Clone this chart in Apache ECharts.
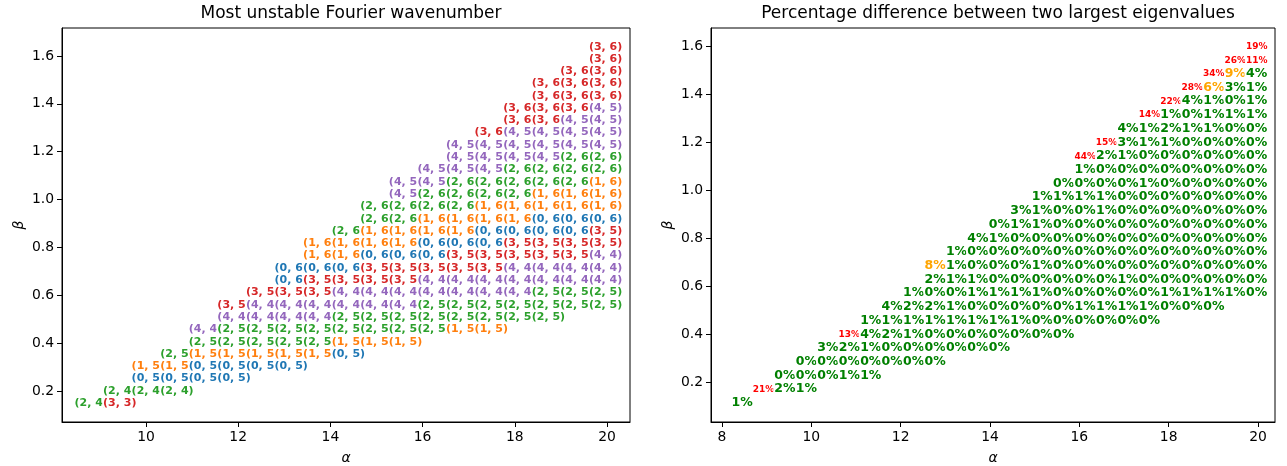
<!DOCTYPE html>
<html><head><meta charset="utf-8">
<script src="https://cdn.jsdelivr.net/npm/echarts@6/dist/echarts.min.js"></script>
<style>html,body{margin:0;padding:0;background:#fff}#c{width:1287px;height:466px}</style>
</head><body><div id="c"></div>
<script>
// ---------- Left panel: most unstable Fourier wavenumber ----------
const leftAlpha = [8.81, 9.43, 10.05, 10.67, 11.29, 11.91, 12.53, 13.15, 13.77, 14.39, 15.01, 15.63, 16.25, 16.87, 17.49, 18.11, 18.73, 19.35, 19.97];
const leftBeta = [0.149, 0.200, 0.252, 0.303, 0.355, 0.406, 0.457, 0.509, 0.560, 0.612, 0.663, 0.714, 0.766, 0.817, 0.869, 0.920, 0.971, 1.023, 1.074, 1.126, 1.177, 1.228, 1.280, 1.331, 1.383, 1.434, 1.485, 1.537, 1.588, 1.639];
const leftRowStart = [0,1,2,2,3,4,4,5,5,6,7,7,8,8,9,10,10,11,11,12,13,13,14,15,15,16,16,17,18,18];
const leftRowModes = [
  "24 33",
  "24 24 24",
  "05 05 05 05",
  "15 15 05 05 05 05",
  "25 15 15 15 15 15 05",
  "25 25 25 25 25 15 15 15",
  "44 25 25 25 25 25 25 25 25 15 15",
  "44 44 44 44 25 25 25 25 25 25 25 25",
  "35 44 44 44 44 44 44 25 25 25 25 25 25 25",
  "35 35 35 44 44 44 44 44 44 44 25 25 25",
  "06 35 35 35 35 44 44 44 44 44 44 44",
  "06 06 06 35 35 35 35 35 44 44 44 44",
  "16 16 06 06 06 35 35 35 35 35 44",
  "16 16 16 16 06 06 06 35 35 35 35",
  "26 16 16 16 16 06 06 06 06 35",
  "26 26 16 16 16 16 06 06 06",
  "26 26 26 26 16 16 16 16 16",
  "45 26 26 26 26 16 16 16",
  "45 45 26 26 26 26 26 16",
  "45 45 45 26 26 26 26",
  "45 45 45 45 26 26",
  "45 45 45 45 45 45",
  "36 45 45 45 45",
  "36 36 45 45",
  "36 36 36 45",
  "36 36 36",
  "36 36 36",
  "36 36",
  "36",
  "36"
];
const leftXTicks = [10, 12, 14, 16, 18, 20];
const leftYTicks = [0.2, 0.4, 0.6, 0.8, 1.0, 1.2, 1.4, 1.6];

// ---------- Right panel: percentage difference ----------
const rightAlpha = [8.45, 8.93, 9.41, 9.89, 10.37, 10.85, 11.33, 11.81, 12.29, 12.77, 13.25, 13.73, 14.21, 14.69, 15.17, 15.65, 16.13, 16.61, 17.09, 17.57, 18.05, 18.53, 19.01, 19.49, 19.97];
const rightBeta = [0.113, 0.170, 0.227, 0.284, 0.341, 0.398, 0.456, 0.513, 0.570, 0.627, 0.684, 0.741, 0.798, 0.856, 0.913, 0.970, 1.027, 1.084, 1.141, 1.198, 1.256, 1.313, 1.370, 1.427, 1.484, 1.541, 1.599];
const rightRowStart = [0,1,2,3,4,5,6,7,8,9,9,10,11,12,13,14,15,16,16,17,18,19,20,21,22,23,24];
const rightRowPct = [
  [1],
  [21,2,1],
  [0,0,0,1,1],
  [0,0,0,0,0,0,0],
  [3,2,1,0,0,0,0,0,0],
  [13,4,2,1,0,0,0,0,0,0,0],
  [1,1,1,1,1,1,1,1,0,0,0,0,0,0],
  [4,2,2,1,0,0,0,0,0,1,1,1,1,0,0,0],
  [1,0,0,1,1,1,1,0,0,0,0,0,1,1,1,1,0],
  [2,1,1,0,0,0,0,0,0,1,0,0,0,0,0,0],
  [8,1,0,0,0,1,0,0,0,0,0,0,0,0,0,0],
  [1,0,0,0,0,0,0,0,0,0,0,0,0,0,0],
  [4,1,0,0,0,0,0,0,0,0,0,0,0,0],
  [0,1,1,0,0,0,0,0,0,0,0,0,0],
  [3,1,0,0,1,0,0,0,0,0,0,0],
  [1,1,1,1,0,0,0,0,0,0,0],
  [0,0,0,0,1,0,0,0,0,0],
  [1,0,0,0,0,0,0,0,0],
  [44,2,1,0,0,0,0,0,0],
  [15,3,1,1,0,0,0,0],
  [4,1,2,1,1,0,0],
  [14,1,0,1,1,1],
  [22,4,1,0,1],
  [28,6,3,1],
  [34,9,4],
  [26,11],
  [19]
];
const rightXTicks = [8, 10, 12, 14, 16, 18, 20];
const rightYTicks = [0.2, 0.4, 0.6, 0.8, 1.0, 1.2, 1.4, 1.6];

// ---------- build ----------
const FONT = '"DejaVu Sans"';
const tab10 = ['#1f77b4', '#ff7f0e', '#2ca02c', '#d62728', '#9467bd'];

const leftData = [];
leftRowModes.forEach((row, i) => {
  row.split(' ').forEach((code, n) => {
    const a = +code[0], b = +code[1];
    leftData.push({
      name: '(' + a + ', ' + b + ')',
      value: [leftAlpha[leftRowStart[i] + n], leftBeta[i]],
      color: tab10[a], size: 11, halo: 1.6
    });
  });
});

const rightData = [];
rightRowPct.forEach((row, i) => {
  row.forEach((v, n) => {
    let color = 'green', size = 12.5;
    if (v >= 10) { color = 'red'; size = 9; }
    else if (v >= 5) { color = 'orange'; size = 12.5; }
    rightData.push({
      name: v + '%',
      value: [rightAlpha[rightRowStart[i] + n], rightBeta[i]],
      color: color, size: size, halo: 2
    });
  });
});

function xAxis(gi, min, max, ticks) {
  return {
    type: 'value', gridIndex: gi, min: min, max: max,
    axisLine: { show: true, onZero: false, lineStyle: { color: '#000', width: 1 } },
    axisTick: { show: true, inside: false, length: 5, lineStyle: { color: '#000', width: 1 }, customValues: ticks },
    axisLabel: { customValues: ticks, color: '#000', fontSize: 13.9, fontFamily: 'DejaVu Sans', margin: 8 },
    splitLine: { show: false },
    name: 'α', nameLocation: 'middle', nameGap: 29,
    nameTextStyle: { fontStyle: 'italic', fontSize: 14, color: '#000', fontFamily: 'DejaVu Sans' }
  };
}
function yAxis(gi, min, max, ticks) {
  return {
    type: 'value', gridIndex: gi, min: min, max: max,
    axisLine: { show: true, onZero: false, lineStyle: { color: '#000', width: 1 } },
    axisTick: { show: true, inside: false, length: 5, lineStyle: { color: '#000', width: 1 }, customValues: ticks },
    axisLabel: { customValues: ticks, color: '#000', fontSize: 13.9, fontFamily: 'DejaVu Sans', margin: 8,
      formatter: v => (+v).toFixed(1) },
    splitLine: { show: false },
    name: 'β', nameLocation: 'middle', nameGap: 36, nameRotate: 90,
    nameTextStyle: { fontStyle: 'italic', fontSize: 14, color: '#000', fontFamily: 'DejaVu Sans' }
  };
}

function textSeries(idx, data) {
  return {
    type: 'custom', xAxisIndex: idx, yAxisIndex: idx, silent: true, clip: false,
    encode: { x: 0, y: 1 },
    data: data.map(d => d.value),
    renderItem: function (params, api) {
      const d = data[params.dataIndex];
      const p = api.coord([api.value(0), api.value(1)]);
      const font = 'bold ' + d.size + 'px ' + FONT;
      return {
        type: 'group',
        children: [
          { type: 'text', x: p[0], y: p[1],
            style: { text: d.name, font: font, fill: '#fff', stroke: '#fff', lineWidth: d.halo * 2,
                     align: 'center', verticalAlign: 'middle', textAlign: 'center', textVerticalAlign: 'middle' } },
          { type: 'text', x: p[0], y: p[1],
            style: { text: d.name, font: font, fill: d.color,
                     align: 'center', verticalAlign: 'middle', textAlign: 'center', textVerticalAlign: 'middle' } }
        ]
      };
    }
  };
}

const option = {
  animation: false,
  backgroundColor: '#fff',
  title: [
    { text: 'Most unstable Fourier wavenumber', left: 346, top: 0, textAlign: 'center',
      textStyle: { fontFamily: 'DejaVu Sans', fontSize: 17, fontWeight: 'normal', color: '#000' } },
    { text: 'Percentage difference between two largest eigenvalues', left: 993, top: 0, textAlign: 'center',
      textStyle: { fontFamily: 'DejaVu Sans', fontSize: 17, fontWeight: 'normal', color: '#000' } }
  ],
  grid: [
    { left: 62, top: 28, width: 568, height: 394, show: true, borderColor: '#000', borderWidth: 1,
      containLabel: false, outerBoundsMode: 'none' },
    { left: 711, top: 28, width: 564, height: 394, show: true, borderColor: '#000', borderWidth: 1,
      containLabel: false, outerBoundsMode: 'none' }
  ],
  xAxis: [xAxis(0, 8.178, 20.499, leftXTicks), xAxis(1, 7.754, 20.38, rightXTicks)],
  yAxis: [yAxis(0, 0.0705, 1.717, leftYTicks), yAxis(1, 0.0333, 1.675, rightYTicks)],
  series: [textSeries(0, leftData), textSeries(1, rightData)]
};
const chart = echarts.init(document.getElementById('c'), null, { renderer: 'canvas' });
chart.setOption(option);
</script>
</body></html>
